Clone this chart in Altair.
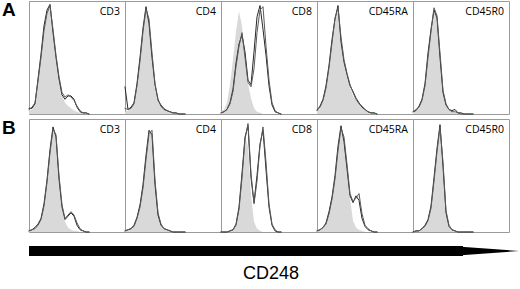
import altair as alt
import pandas as pd

PANELS = ["CD3", "CD4", "CD8", "CD45RA", "CD45R0"]
ROWS = ["A", "B"]
X = list(range(0, 61, 3))  # fluorescence bins (relative units)

A_CD3_FILL = [3, 4, 8, 30, 52, 76, 90, 95, 70, 48, 30, 16, 10, 7, 5, 3, 2, 1, 1, 0, 0]
A_CD3_L1 = [5, 5, 9, 31, 53, 78, 92, 97, 72, 50, 31, 17, 13, 16, 16, 13, 6, 2, 1, 1, 0]
A_CD3_L2 = [4, 6, 10, 29, 50, 74, 89, 96, 75, 52, 33, 19, 15, 17, 15, 12, 7, 3, 1, 1, 0]

A_CD4_FILL = [2, 3, 5, 9, 26, 48, 74, 92, 82, 52, 25, 12, 7, 4, 3, 2, 1, 1, 0, 0, 0]
A_CD4_L1 = [24, 4, 6, 10, 27, 50, 76, 95, 80, 50, 26, 13, 7, 4, 3, 2, 1, 1, 0, 0, 0]
A_CD4_L2 = [5, 4, 5, 9, 25, 47, 73, 93, 84, 54, 27, 12, 8, 5, 3, 2, 1, 1, 0, 0, 0]

A_CD8_FILL = [2, 4, 10, 26, 48, 73, 91, 78, 50, 27, 14, 5, 2, 1, 0, 0, 0, 0, 0, 0, 0]
A_CD8_L1 = [1, 2, 4, 10, 22, 45, 62, 70, 55, 30, 26, 55, 86, 96, 75, 52, 25, 8, 2, 1, 0]
A_CD8_L2 = [1, 2, 4, 9, 20, 42, 60, 72, 50, 28, 24, 40, 72, 92, 95, 60, 30, 10, 3, 1, 0]

A_CD45RA_FILL = [3, 6, 12, 24, 42, 64, 82, 93, 66, 47, 34, 24, 16, 12, 9, 6, 4, 2, 1, 1, 0]
A_CD45RA_L1 = [3, 7, 13, 25, 43, 66, 84, 96, 64, 46, 35, 25, 20, 14, 10, 6, 4, 2, 1, 1, 0]
A_CD45RA_L2 = [4, 6, 12, 23, 41, 63, 85, 94, 68, 48, 36, 26, 19, 13, 9, 7, 4, 2, 1, 1, 0]

A_CD45R0_FILL = [2, 3, 6, 12, 26, 52, 74, 90, 86, 52, 20, 8, 4, 2, 1, 1, 0, 0, 0, 0, 0]
A_CD45R0_L1 = [2, 3, 7, 13, 27, 54, 75, 92, 85, 50, 19, 8, 4, 3, 4, 1, 1, 0, 0, 0, 0]
A_CD45R0_L2 = [2, 4, 6, 12, 25, 50, 73, 94, 87, 54, 21, 9, 4, 2, 2, 1, 0, 0, 0, 0, 0]

B_CD3_FILL = [1, 2, 4, 7, 12, 24, 45, 72, 92, 82, 46, 20, 9, 4, 2, 1, 1, 0, 0, 0, 0]
B_CD3_L1 = [1, 2, 4, 7, 12, 25, 46, 73, 93, 84, 47, 22, 11, 14, 17, 14, 6, 2, 1, 0, 0]
B_CD3_L2 = [1, 2, 3, 6, 11, 23, 44, 70, 91, 86, 50, 24, 12, 15, 18, 15, 8, 3, 1, 0, 0]

B_CD4_FILL = [1, 2, 3, 6, 13, 23, 40, 66, 88, 88, 44, 16, 7, 3, 2, 1, 0, 0, 0, 0, 0]
B_CD4_L1 = [1, 2, 3, 6, 13, 24, 42, 68, 90, 86, 42, 15, 6, 3, 2, 1, 0, 0, 0, 0, 0]
B_CD4_L2 = [1, 2, 3, 5, 12, 22, 39, 64, 87, 90, 46, 17, 7, 3, 2, 1, 0, 0, 0, 0, 0]

B_CD8_FILL = [0, 0, 0, 1, 2, 6, 22, 52, 84, 76, 33, 9, 3, 1, 0, 0, 0, 0, 0, 0, 0]
B_CD8_L1 = [0, 0, 0, 1, 2, 7, 22, 52, 84, 94, 48, 26, 50, 78, 90, 55, 22, 6, 1, 0, 0]
B_CD8_L2 = [0, 0, 0, 1, 2, 6, 20, 48, 82, 96, 52, 25, 45, 76, 93, 62, 25, 7, 2, 0, 0]

B_CD45RA_FILL = [1, 2, 4, 8, 17, 30, 48, 74, 92, 80, 56, 30, 10, 4, 2, 1, 0, 0, 0, 0, 0]
B_CD45RA_L1 = [1, 2, 4, 8, 18, 31, 50, 76, 94, 80, 56, 32, 26, 32, 28, 12, 5, 2, 1, 0, 0]
B_CD45RA_L2 = [1, 2, 4, 7, 16, 29, 47, 72, 92, 84, 60, 34, 27, 30, 34, 16, 6, 3, 1, 0, 0]

B_CD45R0_FILL = [0, 1, 1, 3, 6, 10, 22, 46, 72, 94, 60, 18, 5, 2, 1, 0, 0, 0, 0, 0, 0]
B_CD45R0_L1 = [0, 1, 1, 3, 6, 11, 23, 48, 74, 95, 58, 17, 5, 2, 1, 0, 0, 0, 0, 0, 0]
B_CD45R0_L2 = [0, 1, 1, 3, 5, 10, 21, 45, 71, 93, 62, 19, 6, 2, 1, 0, 0, 0, 0, 0, 0]

AXIS_LABEL = "CD248"

SERIES = {
    ("A", "CD3"): (A_CD3_FILL, A_CD3_L1, A_CD3_L2),
    ("A", "CD4"): (A_CD4_FILL, A_CD4_L1, A_CD4_L2),
    ("A", "CD8"): (A_CD8_FILL, A_CD8_L1, A_CD8_L2),
    ("A", "CD45RA"): (A_CD45RA_FILL, A_CD45RA_L1, A_CD45RA_L2),
    ("A", "CD45R0"): (A_CD45R0_FILL, A_CD45R0_L1, A_CD45R0_L2),
    ("B", "CD3"): (B_CD3_FILL, B_CD3_L1, B_CD3_L2),
    ("B", "CD4"): (B_CD4_FILL, B_CD4_L1, B_CD4_L2),
    ("B", "CD8"): (B_CD8_FILL, B_CD8_L1, B_CD8_L2),
    ("B", "CD45RA"): (B_CD45RA_FILL, B_CD45RA_L1, B_CD45RA_L2),
    ("B", "CD45R0"): (B_CD45R0_FILL, B_CD45R0_L1, B_CD45R0_L2),
}

W, H = 96, 113
NOBORDER = alt.ViewBackground(stroke="transparent")

xenc = alt.X("x:Q", scale=alt.Scale(domain=[0, W]), axis=None)
yenc = alt.Y("y:Q", scale=alt.Scale(domain=[0, 100]), axis=None)


def make_panel(row, name):
    fill_v, l1, l2 = SERIES[(row, name)]
    recs = []
    for sname, vals in zip(["fill", "L1", "L2"], (fill_v, l1, l2)):
        for xv, yv in zip(X, vals):
            recs.append({"series": sname, "x": xv, "y": yv})
    d = pd.DataFrame(recs)
    base = alt.Chart(d)
    fill = base.transform_filter(alt.datum.series == "fill").mark_area(
        color="#d9d9d9", opacity=1
    ).encode(x=xenc, y=yenc)
    lines = base.transform_filter(alt.datum.series != "fill").mark_line(
        strokeWidth=1, strokeJoin="round", strokeCap="round"
    ).encode(
        x=xenc,
        y=yenc,
        color=alt.Color("series:N", scale=alt.Scale(domain=["L1", "L2"], range=["#262626", "#5a5a5a"]),
                        legend=None),
        detail="series:N",
    )
    lab = alt.Chart(pd.DataFrame({"panel": [name]})).mark_text(
        align="right", baseline="middle", font="Open Sans", fontSize=10.5, color="black"
    ).encode(x=alt.value(W - 5), y=alt.value(11), text="panel:N")
    return alt.layer(fill, lines, lab).properties(width=W, height=H)


def make_letter(row):
    return alt.Chart(pd.DataFrame({"row": [row]})).mark_text(
        align="left", baseline="top", font="Liberation Sans", fontSize=19, fontWeight="bold", color="black"
    ).encode(x=alt.value(1), y=alt.value(0), text="row:N").properties(width=28, height=H, view=NOBORDER)


rows = [alt.hconcat(make_letter(r), *[make_panel(r, p) for p in PANELS], spacing=0, bounds="flush")
        for r in ROWS]

arrow_df = pd.DataFrame({"label": [AXIS_LABEL]})
shaft = alt.Chart(arrow_df).mark_rule(color="black", strokeWidth=10, strokeCap="butt").encode(
    x=alt.value(28), x2=alt.value(462), y=alt.value(14)
)
head = alt.Chart(arrow_df).mark_point(
    shape="M -1 -0.15 L 1 0 L -1 0.15 Z", size=3364, filled=True, color="black", opacity=1, strokeWidth=0
).encode(x=alt.value(489), y=alt.value(14))
label = alt.Chart(arrow_df).mark_text(font="Liberation Sans", fontSize=18, color="black").encode(
    x=alt.value(270), y=alt.value(37), text="label:N"
)
arrow = alt.layer(shaft, head, label).properties(width=518, height=48, view=NOBORDER)

chart = alt.vconcat(*rows, arrow, spacing=3).configure_view(
    stroke="#9a9a9a", strokeWidth=1
).properties(padding={"left": 0, "top": 0, "right": 0, "bottom": 0}, background="white")

chart.save("out.html", embed_options={"renderer": "svg", "actions": False})
